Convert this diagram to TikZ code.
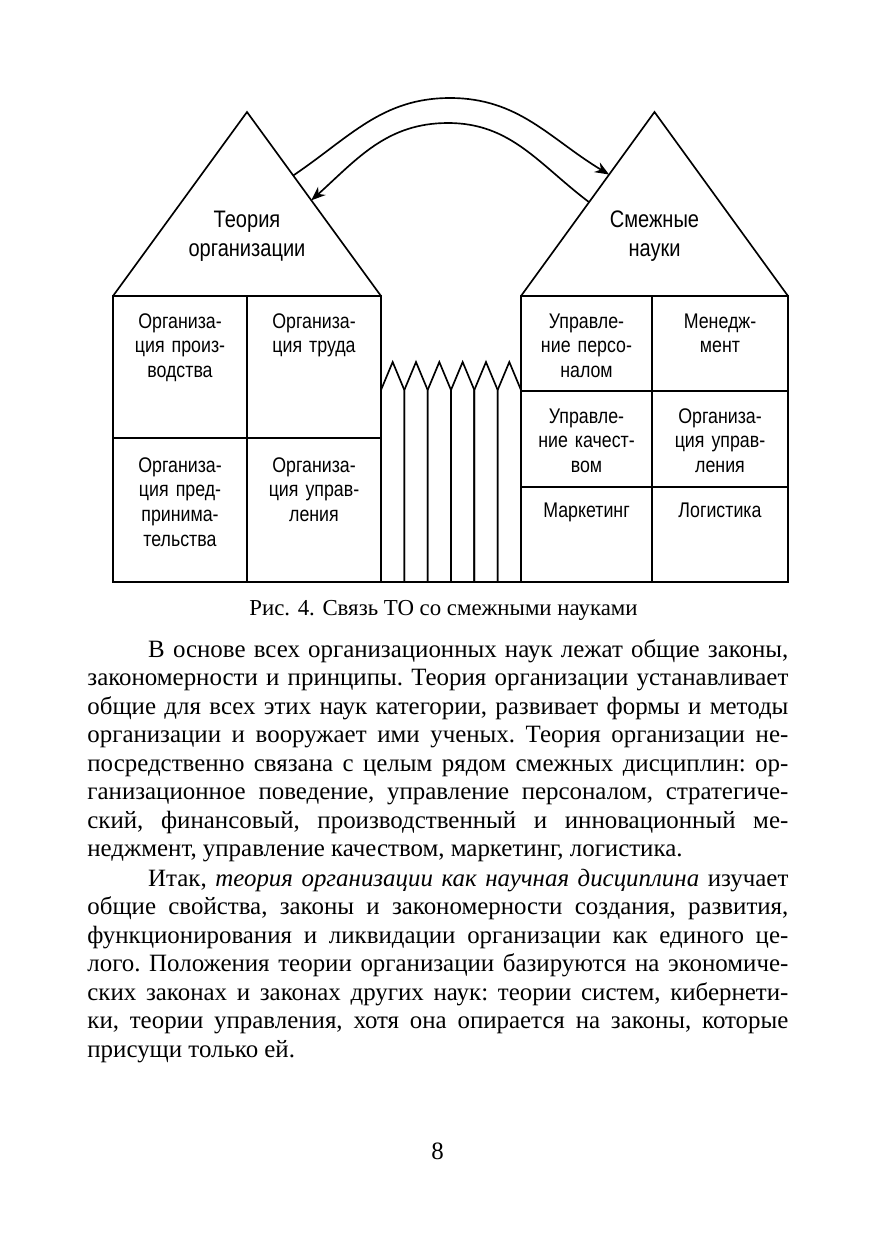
\documentclass[tikz,border=0pt]{standalone}
\usepackage{fontspec}
\setmainfont{Liberation Serif}
\newfontfamily\diafont[FakeStretch=0.84]{Liberation Sans}
\usetikzlibrary{
  arrows.meta,
  calc,
  positioning
}
\tikzset{
  pxgrid/.style={x=0.16933mm, y=-0.16933mm},
  frame/.style={draw=black, line width=0.8pt},
  roof/.style={frame, line join=miter},
  picket/.style={frame, line join=miter},
  link/.style={-{Stealth[length=2.4mm, width=1.9mm]}, line width=0.8pt},
  rooftext/.style={
    font=\diafont\fontsize{11.5}{14.4}\selectfont,
    text width=35mm, align=center, inner sep=0pt, anchor=base
  },
  celltext/.style={
    font=\diafont\fontsize{10.2}{12}\selectfont,
    text width=21mm, align=center, inner sep=0pt, anchor=base
  },
  bodytext/.style={
    font=\fontsize{12}{13.75}\selectfont\frenchspacing,
    text width=118.7mm, align=justify, inner sep=0pt, anchor=base west
  },
  captext/.style={font=\fontsize{11}{13}\selectfont, inner sep=0pt, anchor=base}
}
\newcommand{\fullline}[1]{\makebox[118.7mm][s]{#1}}
\newcommand{\indentline}[1]{\makebox[118.7mm][s]{\hspace*{10.3mm}#1}}

\begin{document}
\begin{tikzpicture}[pxgrid]
  \useasboundingbox (0,0) rectangle (873,1240);

  % left house
  \coordinate (topL) at (247,112);
  \coordinate (baseLW) at (113,296);
  \coordinate (baseLE) at (381,296);
  \draw[roof] (baseLW) -- (topL) -- (baseLE);
  \draw[frame] (113,296) rectangle (381,582);
  \draw[frame] (247,296) -- (247,582);
  \draw[frame] (113,438) -- (381,438);

  % right house
  \coordinate (topR) at (654.5,112);
  \coordinate (baseRW) at (521,296);
  \coordinate (baseRE) at (788,296);
  \draw[roof] (baseRW) -- (topR) -- (baseRE);
  \draw[frame] (521,296) rectangle (788,582);
  \draw[frame] (652,296) -- (652,582);
  \draw[frame] (521,391) -- (788,391);
  \draw[frame] (521,487) -- (788,487);

  % fence
  \foreach \i in {0,...,5} {
    \pgfmathsetmacro\xa{381+23.33*\i}
    \pgfmathsetmacro\xb{\xa+23.33}
    \pgfmathsetmacro\xm{\xa+11.67}
    \draw[picket] (\xa,582) -- (\xa,390) -- (\xm,362) -- (\xb,390) -- (\xb,582) -- cycle;
  }

  % links between the roofs
  \coordinate (outL) at ($(topL)!0.345!(baseLE)$);
  \coordinate (inL) at ($(topL)!0.48!(baseLE)$);
  \coordinate (inR) at ($(topR)!0.34!(baseRW)$);
  \coordinate (outR) at ($(topR)!0.49!(baseRW)$);
  \coordinate (peakUp) at (450,98);
  \coordinate (peakLow) at (448,123);
  \draw[link] (outL) to[out=34, in=180] (peakUp) to[out=0, in=149] (inR);
  \draw[link] (outR) to[out=143, in=0] (peakLow) to[out=180, in=42] (inL);

  \node[rooftext] (theoryL) at (247,227) {Теория\\организации};
  \node[rooftext] (relatedR) at (654.5,227) {Смежные\\науки};

  \node[celltext] (orgProd) at (180,328) {Организа-\\ция произ-\\водства};
  \node[celltext] (orgLabor) at (314,328) {Организа-\\ция труда};
  \node[celltext] (orgEnt) at (180,472) {Организа-\\ция пред-\\принима-\\тельства};
  \node[celltext] (orgMgmt) at (314,472) {Организа-\\ция управ-\\ления};

  \node[celltext] (hrm) at (586.5,328) {Управле-\\ние персо-\\налом};
  \node[celltext] (mgmt) at (720,328) {Менедж-\\мент};
  \node[celltext] (quality) at (586.5,423) {Управле-\\ние качест-\\вом};
  \node[celltext] (orgMgmtR) at (720,423) {Организа-\\ция управ-\\ления};
  \node[celltext] (mkt) at (586.5,517) {Маркетинг};
  \node[celltext] (logist) at (720,517) {Логистика};

  \node[captext] (caption) at (443.5,615) {Рис. 4. Связь ТО со смежными науками};

  \node[bodytext] (parA) at (87,657) {%
    \indentline{В основе всех организационных наук лежат общие законы,}\\
    \fullline{закономерности и принципы. Теория организации устанавливает}\\
    \fullline{общие для всех этих наук категории, развивает формы и методы}\\
    \fullline{организации и вооружает ими ученых. Теория организации не-}\\
    \fullline{посредственно связана с целым рядом смежных дисциплин: ор-}\\
    \fullline{ганизационное поведение, управление персоналом, стратегиче-}\\
    \fullline{ский, финансовый, производственный и инновационный ме-}\\
    неджмент, управление качеством, маркетинг, логистика.};

  \node[bodytext] (parB) at (87,886.1) {%
    \indentline{Итак, \textit{теория организации как научная дисциплина} изучает}\\
    \fullline{общие свойства, законы и закономерности создания, развития,}\\
    \fullline{функционирования и ликвидации организации как единого це-}\\
    \fullline{лого. Положения теории организации базируются на экономиче-}\\
    \fullline{ских законах и законах других наук: теории систем, кибернети-}\\
    \fullline{ки, теории управления, хотя она опирается на законы, которые}\\
    присущи только ей.};

  \node[captext, font=\fontsize{12}{14}\selectfont] (pageNo) at (437.5,1159) {8};
\end{tikzpicture}
\end{document}
